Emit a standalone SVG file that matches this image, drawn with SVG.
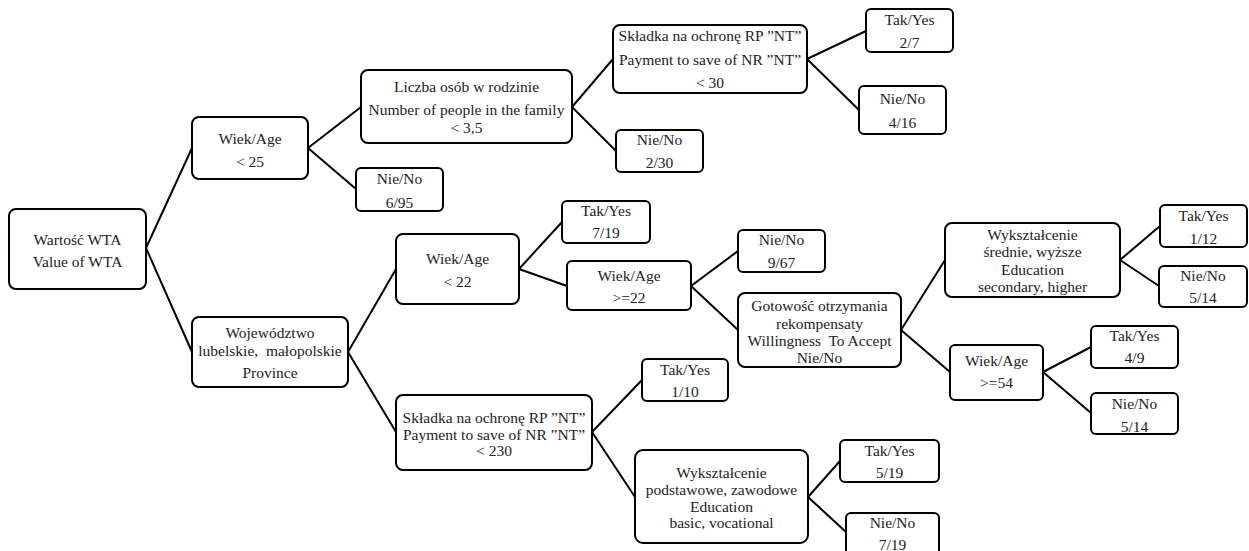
<svg xmlns="http://www.w3.org/2000/svg" width="1249" height="551" viewBox="0 0 1249 551">
<style>
.b{fill:#fff;stroke:#000;stroke-width:2}
.t{font-family:"Liberation Serif","Times New Roman",serif;font-size:15.5px;fill:#222;text-anchor:middle;white-space:pre}
.c line{stroke:#000;stroke-width:2}
</style>
<rect width="1249" height="551" fill="#fff"/>
<g class="c" id="connectors">
<line x1="146" y1="248" x2="192" y2="148"/>
<line x1="146" y1="248" x2="192" y2="352"/>
<line x1="308" y1="148" x2="361" y2="107"/>
<line x1="308" y1="148" x2="356" y2="189"/>
<line x1="572" y1="107" x2="613" y2="59"/>
<line x1="572" y1="107" x2="616" y2="151"/>
<line x1="807" y1="59" x2="866" y2="31"/>
<line x1="807" y1="59" x2="859" y2="110"/>
<line x1="348" y1="352" x2="396" y2="269"/>
<line x1="348" y1="352" x2="396" y2="432"/>
<line x1="519" y1="269" x2="562" y2="222"/>
<line x1="519" y1="269" x2="567" y2="286"/>
<line x1="691" y1="286" x2="738" y2="251"/>
<line x1="691" y1="286" x2="738" y2="330"/>
<line x1="901" y1="330" x2="945" y2="260"/>
<line x1="901" y1="330" x2="950" y2="372"/>
<line x1="1120" y1="260" x2="1160" y2="226"/>
<line x1="1120" y1="260" x2="1159" y2="286"/>
<line x1="1043" y1="372" x2="1091" y2="347"/>
<line x1="1043" y1="372" x2="1091" y2="413"/>
<line x1="592" y1="432" x2="642" y2="380"/>
<line x1="592" y1="432" x2="635" y2="497"/>
<line x1="808" y1="497" x2="840" y2="461"/>
<line x1="808" y1="497" x2="846" y2="532"/>
</g>
<g id="n_root"><rect class="b" x="9" y="209" width="137" height="80" rx="7"/><text class="t" x="77.5" y="245">Wartość WTA</text><text class="t" x="77.5" y="267">Value of WTA</text></g>
<g id="n_age25"><rect class="b" x="192" y="117" width="116" height="62" rx="7"/><text class="t" x="250" y="144">Wiek/Age</text><text class="t" x="250" y="167">&lt; 25</text></g>
<g id="n_no695"><rect class="b" x="356" y="168" width="87" height="43" rx="5"/><text class="t" x="399.5" y="184">Nie/No</text><text class="t" x="399.5" y="208">6/95</text></g>
<g id="n_family"><rect class="b" x="361" y="70" width="211" height="73" rx="7"/><text class="t" x="466.5" y="92">Liczba osób w rodzinie</text><text class="t" x="466.5" y="115">Number of people in the family</text><text class="t" x="466.5" y="133">&lt; 3,5</text></g>
<g id="n_pay30"><rect class="b" x="613" y="25" width="194" height="68" rx="7"/><text class="t" x="710" y="41">Składka na ochronę RP ”NT”</text><text class="t" x="710" y="65">Payment to save of NR ”NT”</text><text class="t" x="710" y="88">&lt; 30</text></g>
<g id="n_no230"><rect class="b" x="616" y="130" width="87" height="42" rx="5"/><text class="t" x="659.5" y="145">Nie/No</text><text class="t" x="659.5" y="168">2/30</text></g>
<g id="n_yes27"><rect class="b" x="866" y="9" width="87" height="43" rx="5"/><text class="t" x="909.5" y="25">Tak/Yes</text><text class="t" x="909.5" y="48">2/7</text></g>
<g id="n_no416"><rect class="b" x="859" y="86" width="87" height="48" rx="5"/><text class="t" x="902.5" y="104">Nie/No</text><text class="t" x="902.5" y="128">4/16</text></g>
<g id="n_prov"><rect class="b" x="192" y="317" width="156" height="70" rx="7"/><text class="t" x="270" y="338">Województwo</text><text class="t" x="270" y="356">lubelskie,  małopolskie</text><text class="t" x="270" y="378">Province</text></g>
<g id="n_age22"><rect class="b" x="396" y="234" width="123" height="70" rx="7"/><text class="t" x="457.5" y="264">Wiek/Age</text><text class="t" x="457.5" y="287">&lt; 22</text></g>
<g id="n_yes719"><rect class="b" x="562" y="201" width="88" height="42" rx="5"/><text class="t" x="606" y="216">Tak/Yes</text><text class="t" x="606" y="238">7/19</text></g>
<g id="n_agege22"><rect class="b" x="567" y="261" width="124" height="49" rx="5"/><text class="t" x="629" y="281">Wiek/Age</text><text class="t" x="629" y="303">&gt;=22</text></g>
<g id="n_no967"><rect class="b" x="738" y="230" width="87" height="42" rx="5"/><text class="t" x="781.5" y="245">Nie/No</text><text class="t" x="781.5" y="268">9/67</text></g>
<g id="n_wta"><rect class="b" x="738" y="293" width="163" height="74" rx="7"/><text class="t" x="819.5" y="311">Gotowość otrzymania</text><text class="t" x="819.5" y="329">rekompensaty</text><text class="t" x="819.5" y="346">Willingness  To Accept</text><text class="t" x="819.5" y="363">Nie/No</text></g>
<g id="n_eduhigh"><rect class="b" x="945" y="223" width="175" height="74" rx="7"/><text class="t" x="1032.5" y="240">Wykształcenie</text><text class="t" x="1032.5" y="257">średnie, wyższe</text><text class="t" x="1032.5" y="275">Education</text><text class="t" x="1032.5" y="292">secondary, higher</text></g>
<g id="n_yes112"><rect class="b" x="1160" y="205" width="87" height="42" rx="5"/><text class="t" x="1203.5" y="221">Tak/Yes</text><text class="t" x="1203.5" y="244">1/12</text></g>
<g id="n_no514a"><rect class="b" x="1159" y="266" width="88" height="41" rx="5"/><text class="t" x="1203" y="281">Nie/No</text><text class="t" x="1203" y="303">5/14</text></g>
<g id="n_age54"><rect class="b" x="950" y="345" width="93" height="55" rx="5"/><text class="t" x="996.5" y="366">Wiek/Age</text><text class="t" x="996.5" y="388">&gt;=54</text></g>
<g id="n_yes49"><rect class="b" x="1091" y="326" width="87" height="42" rx="5"/><text class="t" x="1134.5" y="341">Tak/Yes</text><text class="t" x="1134.5" y="363">4/9</text></g>
<g id="n_no514b"><rect class="b" x="1091" y="393" width="87" height="41" rx="5"/><text class="t" x="1134.5" y="409">Nie/No</text><text class="t" x="1134.5" y="432">5/14</text></g>
<g id="n_pay230"><rect class="b" x="396" y="395" width="196" height="75" rx="7"/><text class="t" x="494" y="423">Składka na ochronę RP ”NT”</text><text class="t" x="494" y="440">Payment to save of NR ”NT”</text><text class="t" x="494" y="456">&lt; 230</text></g>
<g id="n_yes110"><rect class="b" x="642" y="359" width="86" height="42" rx="5"/><text class="t" x="685" y="375">Tak/Yes</text><text class="t" x="685" y="397">1/10</text></g>
<g id="n_edubasic"><rect class="b" x="635" y="450" width="173" height="93" rx="8"/><text class="t" x="721.5" y="478">Wykształcenie</text><text class="t" x="721.5" y="495">podstawowe, zawodowe</text><text class="t" x="721.5" y="512">Education</text><text class="t" x="721.5" y="528">basic, vocational</text></g>
<g id="n_yes519"><rect class="b" x="840" y="440" width="99" height="42" rx="5"/><text class="t" x="889.5" y="456">Tak/Yes</text><text class="t" x="889.5" y="478">5/19</text></g>
<g id="n_no719"><rect class="b" x="846" y="513" width="93" height="48" rx="5"/><text class="t" x="892.5" y="528">Nie/No</text><text class="t" x="892.5" y="550">7/19</text></g>
</svg>
